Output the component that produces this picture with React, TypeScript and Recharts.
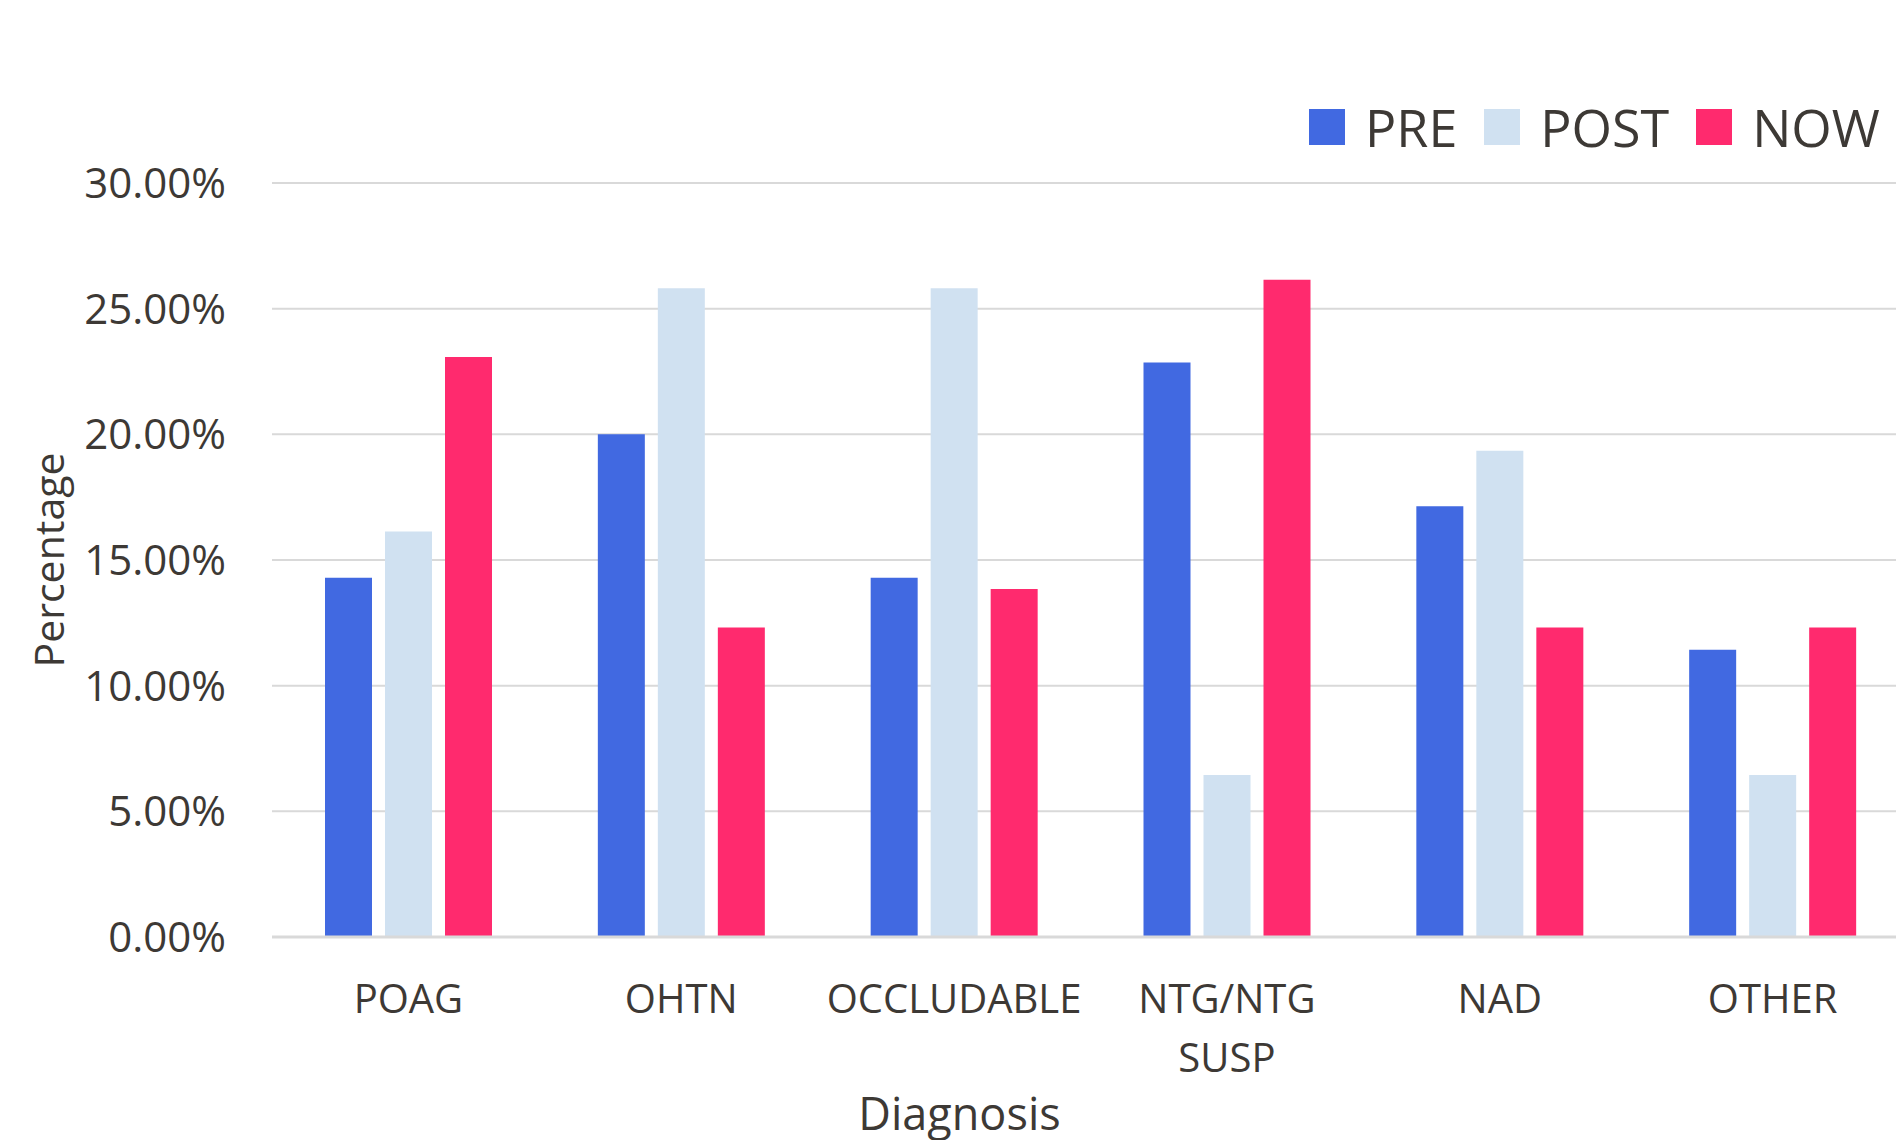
import { BarChart, Bar, XAxis, YAxis, CartesianGrid, Legend, Label } from 'recharts';

const categories = ['POAG', 'OHTN', 'OCCLUDABLE', 'NTG/NTG SUSP', 'NAD', 'OTHER'];
const pre = [14.29, 20.0, 14.29, 22.86, 17.14, 11.43];
const post = [16.13, 25.81, 25.81, 6.45, 19.35, 6.45];
const now = [23.08, 12.31, 13.85, 26.15, 12.31, 12.31];
const yTicks = [0, 5, 10, 15, 20, 25, 30];

const series = [
  { key: 'PRE', color: '#4169e1' },
  { key: 'POST', color: '#d0e1f1' },
  { key: 'NOW', color: '#ff2a6e' },
];

const data = categories.map((name, i) => ({
  name,
  PRE: pre[i],
  POST: post[i],
  NOW: now[i],
}));

const textColor = '#3d3935';
const font = '"Open Sans", sans-serif';

function CategoryTick({ x, y, payload }: any) {
  const lines = String(payload.value).split(' ');
  return (
    <text x={x} y={y} textAnchor="middle" fill={textColor} fontSize={40} fontFamily={font}>
      {lines.map((l, i) => (
        <tspan key={i} x={x} y={y + 76 + i * 59}>
          {l}
        </tspan>
      ))}
    </text>
  );
}

function LegendContent() {
  return (
    <div style={{ display: 'flex', alignItems: 'center', fontFamily: font, color: textColor }}>
      {series.map(s => (
        <div key={s.key} style={{ display: 'flex', alignItems: 'center', marginRight: 27 }}>
          <span style={{ width: 36, height: 36, background: s.color, marginRight: 20, display: 'inline-block' }} />
          <span style={{ fontSize: 52, lineHeight: 1 }}>{s.key}</span>
        </div>
      ))}
    </div>
  );
}

export default function App() {
  return (
    <div
      style={{
        position: 'absolute',
        top: 0,
        left: 0,
        width: 1896,
        height: 1140,
        overflow: 'hidden',
        background: '#fff',
      }}
    >
      <BarChart
        width={1930}
        height={1140}
        data={data}
        margin={{ top: 183, right: 21, bottom: 0, left: 0 }}
        barCategoryGap={53}
        barGap={13}
        style={{ fontFamily: font }}
      >
        <CartesianGrid vertical={false} stroke="#d9d9d9" strokeWidth={2} />
        <XAxis
          dataKey="name"
          height={203}
          tickLine={false}
          tickSize={0}
          tickMargin={0}
          axisLine={{ stroke: '#d9d9d9', strokeWidth: 3 }}
          tick={<CategoryTick />}
          interval={0}
        >
          <Label
            content={({ viewBox }: any) => (
              <text
                x={viewBox.x + viewBox.width / 2 - 131}
                y={1130}
                textAnchor="middle"
                fill={textColor}
                fontSize={45}
                fontFamily={font}
              >
                Diagnosis
              </text>
            )}
          />
        </XAxis>
        <YAxis
          width={272}
          domain={[0, 30]}
          ticks={yTicks}
          interval={0}
          axisLine={false}
          tickLine={false}
          tickSize={0}
          tickMargin={46}
          tickFormatter={(v: number) => `${v.toFixed(2)}%`}
          tick={{ fill: textColor, fontSize: 42, fontFamily: font }}
        >
          <Label
            content={({ viewBox }: any) => {
              const cx = 48;
              const cy = viewBox.y + viewBox.height / 2;
              return (
                <text
                  x={cx}
                  y={cy}
                  transform={`rotate(-90 ${cx} ${cy})`}
                  textAnchor="middle"
                  dominantBaseline="central"
                  fill={textColor}
                  fontSize={41}
                  fontFamily={font}
                >
                  Percentage
                </text>
              );
            }}
          />
        </YAxis>
        <Legend
          layout="horizontal"
          verticalAlign="middle"
          align="center"
          content={<LegendContent />}
          wrapperStyle={{ position: 'absolute', top: 101, left: 1309, width: 700, bottom: 'auto' }}
        />
        {series.map(s => (
          <Bar key={s.key} dataKey={s.key} fill={s.color} isAnimationActive={false} />
        ))}
      </BarChart>
    </div>
  );
}
